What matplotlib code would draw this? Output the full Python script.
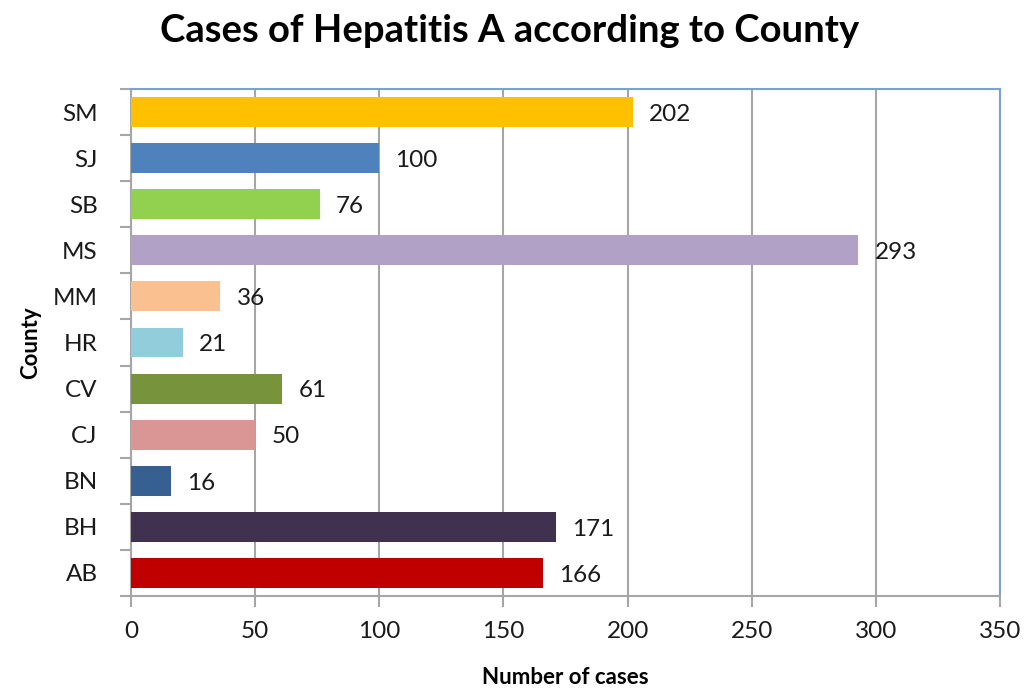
import matplotlib.pyplot as plt

counties = ["AB", "BH", "BN", "CJ", "CV", "HR", "MM", "MS", "SB", "SJ", "SM"]
cases = [166, 171, 16, 50, 61, 21, 36, 293, 76, 100, 202]
colors = ["#C00000", "#403151", "#366092", "#D99694", "#77933C", "#92CDDC",
          "#FAC090", "#B2A1C7", "#92D050", "#4F81BD", "#FFC000"]
x_ticks = [0, 50, 100, 150, 200, 250, 300, 350]

plt.rcParams['font.family'] = ['Lato', 'DejaVu Sans']

fig = plt.figure(figsize=(10.25, 6.91), dpi=100)
ax = fig.add_axes([0.1278, 0.1375, 0.8478, 0.7337])

ypos = list(range(len(counties)))
bars = ax.barh(ypos, cases, height=0.65, color=colors, zorder=3)

for y, v in zip(ypos, cases):
    ax.text(v + 6.5, y - 0.05, str(v), va='center', ha='left', fontsize=17.5, color='#1a1a1a')

ax.set_xlim(0, 350)
ax.set_ylim(-0.5, len(counties) - 0.5)
ax.set_xticks(x_ticks)
ax.set_yticks(ypos)
ax.set_yticklabels(counties)
ax.set_yticks([i - 0.5 for i in range(len(counties) + 1)], minor=True)

ax.grid(axis='x', color='#A6A6A6', linewidth=1.5, zorder=0)
ax.tick_params(axis='y', which='major', length=0, pad=24, labelsize=17.5, colors='#1a1a1a')
ax.tick_params(axis='y', which='minor', length=8, width=1.5, color='#A6A6A6', direction='out')
ax.tick_params(axis='x', which='major', length=8, width=1.5, color='#A6A6A6', direction='out',
               pad=10, labelsize=17.5, labelcolor='#1a1a1a')

for side in ['top', 'right']:
    ax.spines[side].set_color('#7BA0D4')
    ax.spines[side].set_linewidth(1.5)
for side in ['left', 'bottom']:
    ax.spines[side].set_color('#A6A6A6')
    ax.spines[side].set_linewidth(1.5)

ax.set_xlabel("Number of cases", fontsize=16, fontweight='bold', labelpad=18)
ax.set_ylabel("County", fontsize=16, fontweight='bold', labelpad=8)
fig.suptitle("Cases of Hepatitis A according to County", fontsize=27.5, fontweight='bold',
             x=0.497, y=0.98)

fig.savefig("out.png", dpi=100)
